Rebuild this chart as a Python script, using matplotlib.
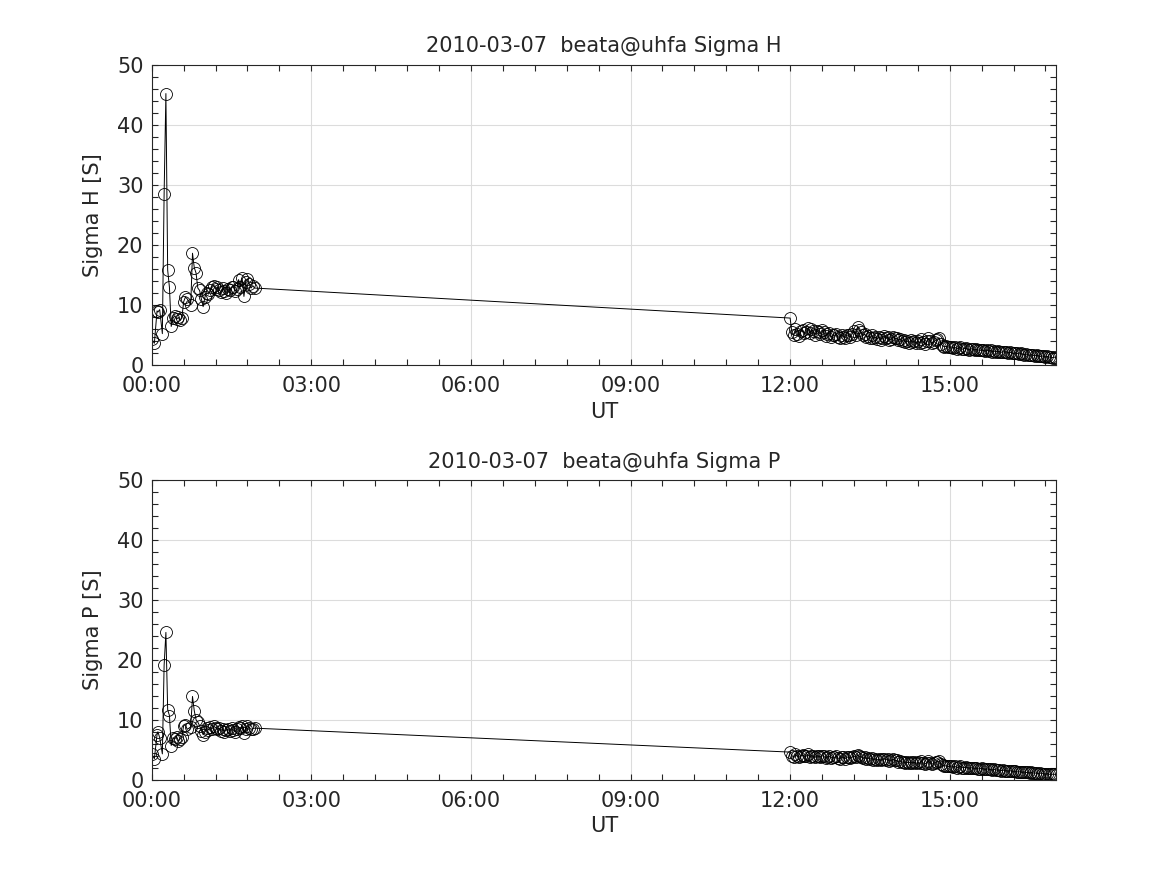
import matplotlib
matplotlib.use('Agg')
import matplotlib.pyplot as plt
from matplotlib.ticker import MultipleLocator, FuncFormatter

# morning samples (minutes after 00:00 UT)
early_min = [0, 3, 6, 7, 9, 12, 14, 16, 18, 20, 22, 24, 26, 28, 30, 32, 34, 36, 38,
             40, 44, 46, 48, 50, 52, 54, 56, 58, 60, 62, 64, 66, 68, 70, 72, 74, 76,
             78, 80, 82, 84, 86, 88, 90, 92, 94, 96, 98, 100, 102, 104, 106, 108,
             110, 112, 114, 116]
early_h = [4.3, 3.6, 9.0, 8.8, 9.2, 5.2, 28.5, 45.2, 15.8, 12.9, 6.4, 7.8, 8.2, 7.6,
           7.9, 7.4, 7.8, 10.5, 11.3, 11.0, 10.0, 18.6, 16.2, 15.3, 12.8, 12.4, 11.0,
           9.7, 11.3, 12.0, 11.8, 12.4, 12.9, 13.2, 12.6, 13.0, 12.5, 12.2, 12.8,
           12.3, 12.0, 12.7, 12.4, 12.9, 13.0, 12.3, 12.6, 14.2, 13.0, 14.4, 11.4,
           13.8, 14.3, 13.5, 12.8, 13.2, 12.8]
early_p = [4.3, 3.5, 7.5, 8.0, 7.0, 4.3, 19.1, 24.6, 11.7, 10.7, 5.7, 7.0, 6.8, 7.2,
           6.5, 6.8, 7.2, 9.0, 9.2, 8.4, 8.8, 13.9, 11.5, 10.0, 9.6, 9.0, 8.2, 7.5,
           8.0, 8.6, 8.3, 8.8, 8.5, 8.9, 8.7, 8.4, 8.6, 8.2, 8.5, 8.0, 8.3, 8.4, 8.1,
           8.6, 8.3, 8.0, 8.5, 8.8, 8.6, 8.9, 7.8, 8.5, 9.0, 8.7, 8.4, 8.5, 8.6]

# afternoon samples, every 2 min from 12:00 UT
late_start = 720
late_step = 2
late_h = [7.8, 5.4, 5.0, 6.0, 5.2, 4.8, 5.6, 5.8, 5.3, 5.5,
          6.1, 5.3, 5.9, 5.6, 5.0, 5.7, 5.4, 5.2, 5.8, 5.5,
          4.8, 5.1, 5.3, 4.6, 5.0, 4.9, 5.2, 4.7, 4.5, 5.0,
          4.7, 4.5, 5.0, 4.9, 4.6, 5.2, 5.6, 5.0, 6.3, 5.8,
          5.4, 4.9, 5.1, 4.7, 4.8, 4.5, 4.9, 4.4, 4.6, 4.3,
          4.7, 4.2, 4.5, 4.8, 4.4, 4.6, 4.1, 4.3, 4.7, 4.4,
          4.4, 4.1, 4.3, 3.9, 4.2, 3.8, 4.0, 3.7, 4.1, 3.8,
          3.9, 3.6, 4.0, 3.7, 4.3, 3.8, 3.5, 3.9, 4.4, 3.9,
          3.6, 3.8, 4.1, 4.3, 4.5, 3.5, 3.2, 3.0, 3.1, 3.0,
          2.9, 3.0, 2.8, 2.9, 2.7, 2.8, 2.9, 2.6, 2.7, 2.8,
          2.6, 2.5, 2.7, 2.6, 2.5, 2.6, 2.5, 2.4, 2.5, 2.4,
          2.3, 2.4, 2.3, 2.4, 2.2, 2.3, 2.2, 2.3, 2.2, 2.1,
          2.2, 2.1, 2.2, 2.0, 2.1, 2.0, 1.9, 2.0, 1.9, 1.8,
          1.9, 1.8, 1.7, 1.8, 1.7, 1.6, 1.7, 1.6, 1.5, 1.6,
          1.5, 1.4, 1.5, 1.4, 1.3, 1.4, 1.3, 1.3, 1.2, 1.3,
          1.2]
late_p = [4.6, 4.0, 3.8, 4.2, 3.9, 3.7, 4.0, 4.1, 3.9, 3.9,
          4.2, 3.8, 4.0, 3.9, 3.7, 4.0, 3.9, 3.8, 4.0, 3.9,
          3.6, 3.8, 3.9, 3.6, 3.8, 3.7, 3.9, 3.6, 3.5, 3.8,
          3.7, 3.5, 3.8, 3.7, 3.6, 3.8, 3.9, 3.7, 4.1, 3.9,
          3.8, 3.6, 3.7, 3.5, 3.6, 3.4, 3.6, 3.3, 3.5, 3.3,
          3.4, 3.2, 3.4, 3.5, 3.3, 3.4, 3.1, 3.2, 3.4, 3.2,
          3.2, 3.0, 3.1, 2.9, 3.0, 2.8, 2.9, 2.8, 3.0, 2.8,
          2.9, 2.7, 2.9, 2.7, 3.1, 2.8, 2.6, 2.8, 3.1, 2.8,
          2.6, 2.7, 2.9, 3.0, 3.1, 2.6, 2.4, 2.3, 2.3, 2.2,
          2.2, 2.3, 2.1, 2.2, 2.0, 2.1, 2.2, 2.0, 2.0, 2.1,
          2.0, 1.9, 2.0, 1.9, 1.9, 1.9, 1.8, 1.8, 1.9, 1.8,
          1.7, 1.8, 1.7, 1.7, 1.6, 1.7, 1.6, 1.6, 1.6, 1.5,
          1.6, 1.5, 1.5, 1.4, 1.5, 1.4, 1.4, 1.4, 1.3, 1.3,
          1.3, 1.2, 1.3, 1.2, 1.2, 1.1, 1.2, 1.1, 1.1, 1.1,
          1.0, 1.1, 1.0, 1.0, 0.9, 1.0, 0.9, 0.9, 0.9, 0.9,
          0.85]

late_min = [late_start + late_step * i for i in range(len(late_h))]
t_hours = [m / 60.0 for m in early_min + late_min]
sigma_h = early_h + late_h
sigma_p = early_p + late_p

date_str = '2010-03-07'
site = 'beata@uhfa'
txt = '#262626'

fig = plt.figure(figsize=(11.67, 8.75), dpi=100)
ax1 = fig.add_axes([0.130, 0.583, 0.775, 0.343])
ax2 = fig.add_axes([0.130, 0.109, 0.775, 0.342])

for ax, vals, name in [(ax1, sigma_h, 'Sigma H'), (ax2, sigma_p, 'Sigma P')]:
    ax.plot(t_hours, vals, '-', color='black', lw=0.7,
            marker='o', ms=8.6, mfc='none', mec='black', mew=0.6)
    ax.set_xlim(0, t_hours[-1])
    ax.set_ylim(0, 50)
    ax.xaxis.set_major_locator(MultipleLocator(3))
    ax.xaxis.set_minor_locator(MultipleLocator(0.6))
    ax.xaxis.set_major_formatter(FuncFormatter(lambda v, p: '%02d:00' % int(round(v))))
    ax.yaxis.set_major_locator(MultipleLocator(10))
    ax.yaxis.set_minor_locator(MultipleLocator(2))
    ax.grid(True, which='major', color='#dcdcdc', lw=0.8)
    ax.set_axisbelow(True)
    ax.tick_params(which='both', direction='in', top=True, right=True,
                   length=4.5, width=0.8, color=txt, labelsize=15, labelcolor=txt)
    ax.tick_params(axis='x', which='both', pad=8)
    ax.tick_params(axis='y', which='both', pad=6)
    for sp in ax.spines.values():
        sp.set_color(txt)
        sp.set_linewidth(0.8)
    ax.set_title(date_str + '  ' + site + ' ' + name, fontsize=15, color=txt, pad=9)
    ax.set_xlabel('UT', fontsize=15, color=txt, labelpad=4)
    ax.set_ylabel(name + ' [S]', fontsize=15, color=txt, labelpad=10)

fig.savefig('out.png', dpi=100)
